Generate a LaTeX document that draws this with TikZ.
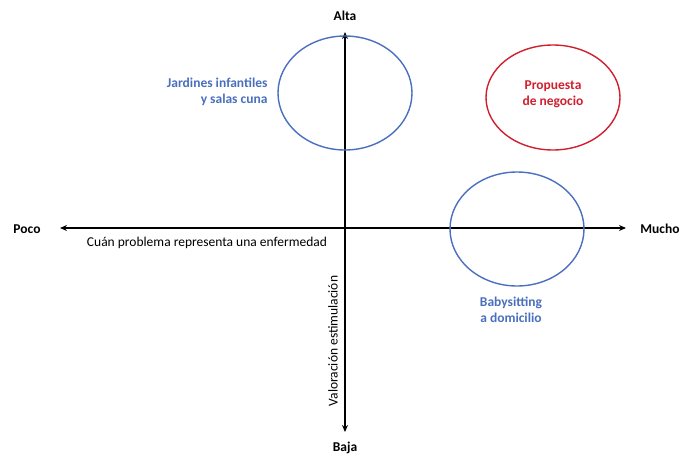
\documentclass[tikz,border=0pt]{standalone}
\usepackage{fontspec}
\setmainfont{Carlito}
\usepackage{tikz}
\usetikzlibrary{positioning,calc,arrows.meta,shapes.geometric}
\definecolor{blueline}{HTML}{4A6FBE}
\definecolor{redline}{HTML}{D0202E}
\definecolor{darktext}{HTML}{000000}

\begin{document}
\begin{tikzpicture}[
  x=1pt, y=-1pt,
  axis/.style={<->, >={Stealth[length=7pt,width=6pt]}, line width=2.2pt, color=darktext},
  market/.style={ellipse, draw=blueline, line width=1.4pt, minimum width=134pt, minimum height=114pt},
  goal/.style={market, draw=redline, minimum height=105pt},
  tag/.style={font=\fontsize{13.5}{16}\selectfont\bfseries, text=darktext},
  bluetag/.style={font=\fontsize{13.5}{16}\selectfont\bfseries, text=blueline, align=center},
  redtag/.style={bluetag, text=redline},
  axlabel/.style={font=\fontsize{13.5}{16}\selectfont, text=darktext},
]
\useasboundingbox (0,0) rectangle (680,455);
% axes
\coordinate (top) at (345,32);
\coordinate (bottom) at (345,432);
\coordinate (left) at (60,228);
\coordinate (right) at (626,228);
\draw[axis] (left) -- (right);
\draw[axis] (top) -- (bottom);
\node[tag] (alta) at (345,16) {Alta};
\node[tag] (baja) at (345,448) {Baja};
\node[tag] (poco) at (27,229) {Poco};
\node[tag] (mucho) at (660,229) {Mucho};
\node[axlabel] (xlab) at (207,243) {Cuán problema representa una enfermedad};
\node[axlabel, rotate=90] (ylab) at (333,341) {Valoración estimulación};
% segments
\node[market] (jardines) at (345,93) {};
\node[goal] (propuesta) at (553,97.5) {};
\node[market] (babysit) at (517,229) {};
\node[bluetag, align=right, anchor=east] (jardlab) at (271,92) {Jardines infantiles\\y salas cuna};
\node[redtag] (proplab) at (553,94) {Propuesta\\de negocio};
\node[bluetag] (babylab) at (511,310) {Babysitting\\a domicilio};
\end{tikzpicture}
\end{document}
